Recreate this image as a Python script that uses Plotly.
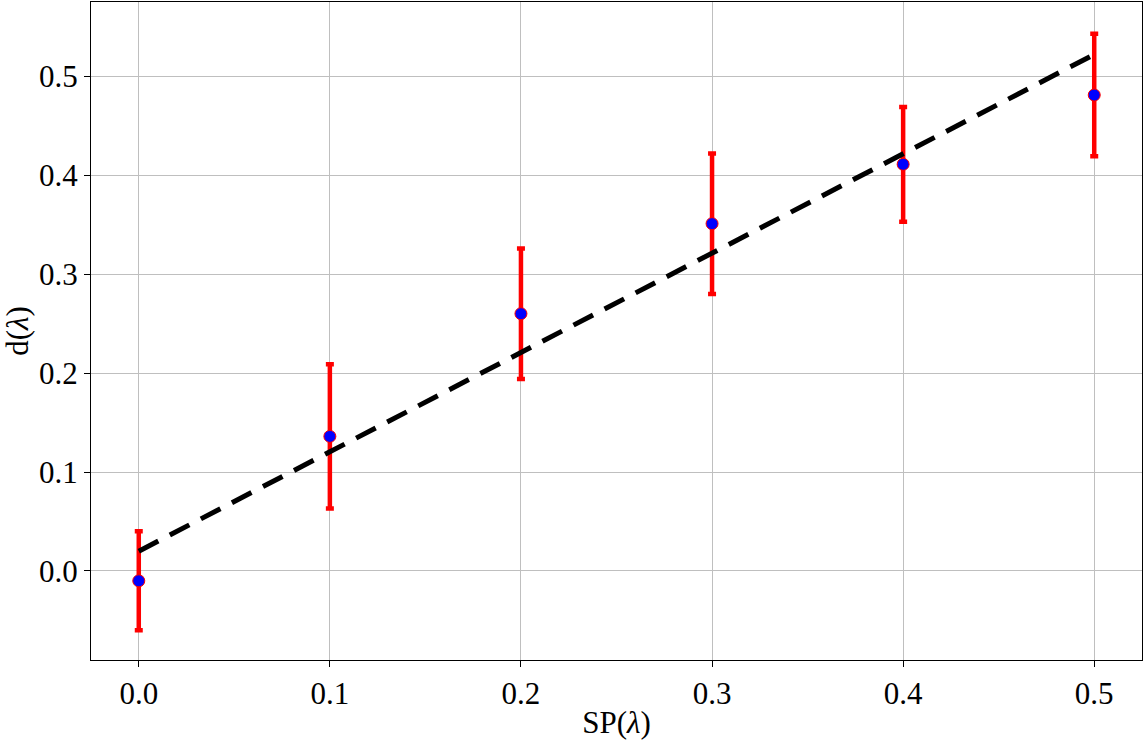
import plotly.graph_objects as go

sp = [0.0, 0.1, 0.2, 0.3, 0.4, 0.5]
d_vals = [-0.010, 0.136, 0.260, 0.351, 0.411, 0.481]
d_err = [0.050, 0.073, 0.066, 0.071, 0.058, 0.062]
fit_x = [0.0, 0.5]
fit_y = [0.020, 0.522]
x_ticks = [0.0, 0.1, 0.2, 0.3, 0.4, 0.5]
y_ticks = [0.0, 0.1, 0.2, 0.3, 0.4, 0.5]

fig = go.Figure()
fig.add_trace(go.Scatter(
    x=sp, y=d_vals, mode="markers",
    marker=dict(size=12, color="blue", line=dict(color="red", width=1)),
    error_y=dict(type="data", array=d_err, visible=True, color="red",
                 thickness=4.5, width=4),
    showlegend=False,
))
fig.add_trace(go.Scatter(
    x=fit_x, y=fit_y, mode="lines",
    line=dict(color="black", width=5, dash="22px,13px"),
    showlegend=False,
))

font = "Liberation Serif, Times New Roman, serif"
axis_common = dict(
    showline=True, linecolor="black", linewidth=1.2, mirror=True,
    ticks="outside", ticklen=6, tickwidth=1.2, tickcolor="black",
    showgrid=True, gridcolor="#bfbfbf", gridwidth=1, zeroline=False,
    tickfont=dict(family=font, size=31, color="black"),
)
fig.update_xaxes(range=[-0.025, 0.525], tickvals=x_ticks, tickformat=".1f",
                 title=dict(text="SP(<i>λ</i>)", font=dict(family=font, size=31, color="black"), standoff=4),
                 **axis_common)
fig.update_yaxes(range=[-0.09, 0.575], tickvals=y_ticks, tickformat=".1f",
                 title=dict(text="d(<i>λ</i>)", font=dict(family=font, size=31, color="black"), standoff=6),
                 **axis_common)
fig.update_layout(
    width=1146, height=740,
    margin=dict(l=91, r=4, t=2, b=80),
    plot_bgcolor="white", paper_bgcolor="white",
    font=dict(family=font, color="black"),
)
fig.write_html("out.html")
